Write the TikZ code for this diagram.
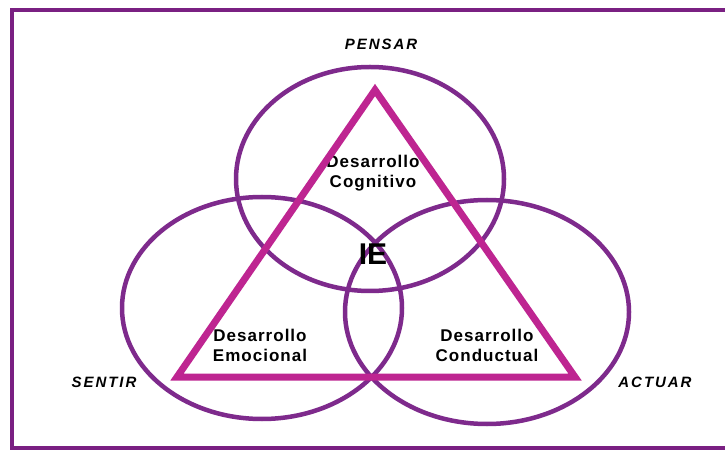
\documentclass[tikz,border=0pt]{standalone}
\usepackage{fontspec}
\setmainfont{Liberation Sans}
\newfontfamily\labfont[LetterSpace=6]{Liberation Sans}
\newfontfamily\capfont[LetterSpace=13]{Liberation Sans}
\definecolor{ringc}{HTML}{7E2A8C}
\definecolor{tric}{HTML}{BE2591}
\definecolor{framec}{HTML}{7A2082}
\begin{document}
\begin{tikzpicture}[x=1pt,y=1pt,
  ring/.style={draw=ringc,line width=4.5pt},
  tri/.style={draw=tric,line width=7pt,line join=miter},
  dlab/.style={font=\labfont\bfseries\fontsize{17}{20}\selectfont,align=center,inner sep=0pt},
  clab/.style={font=\capfont\bfseries\itshape\fontsize{15}{17}\selectfont,inner sep=0pt}]
\useasboundingbox (0,0) rectangle (725,450);
\fill[white] (0,0) rectangle (725,450);
\clip (0,0) rectangle (725,450);
\draw[framec,line width=4pt] (740,440) -- (12,440) -- (12,2) -- (740,2);
% rings
\draw[ring] (370,271) ellipse [x radius=134, y radius=112];
\draw[ring] (262,142) ellipse [x radius=140, y radius=111];
\draw[ring] (487,138) ellipse [x radius=142, y radius=112];
% texts
\node[dlab] (cog) at (373,277) {Desarrollo\\Cognitivo};
\node[dlab] (emo) at (260,105) {Desarrollo\\Emocional};
\node[dlab] (con) at (487,105) {Desarrollo\\Conductual};
\node[font=\bfseries\fontsize{30}{30}\selectfont,inner sep=0pt] (ie) at (373,196) {IE};
% triangle
\coordinate (a) at (375,360);
\coordinate (b) at (177,73);
\coordinate (c) at (575,73);
\draw[tri] (a) -- (b) -- (c) -- cycle;
% labels
\node[clab] (pensar) at (381,406) {PENSAR};
\node[clab] (sentir) at (104,68) {SENTIR};
\node[clab] (actuar) at (655,68) {ACTUAR};
\end{tikzpicture}
\end{document}
